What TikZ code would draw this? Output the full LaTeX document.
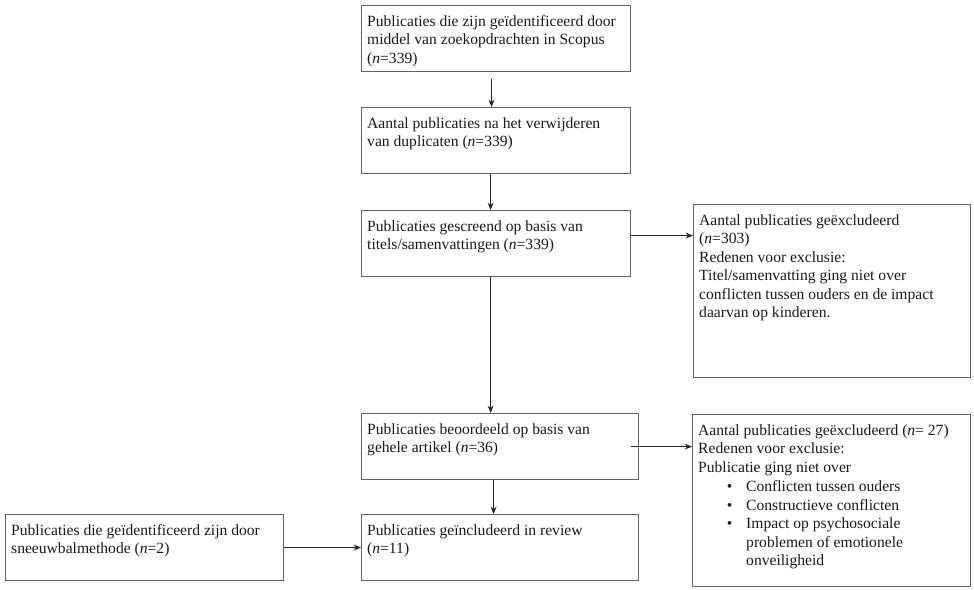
\documentclass[tikz,border=0pt]{standalone}
\usepackage{fontspec}
\setmainfont{Liberation Serif}
\usetikzlibrary{arrows.meta,calc}
\newcommand\bxt[3]{\parbox[c][#2][t]{#1}{\raggedright\fontsize{11.7pt}{13.9pt}\selectfont\vspace*{2pt}#3}}
\tikzset{
  flowbox/.style={draw=black!62, line width=0.9pt, inner xsep=4.2pt, inner ysep=5.2pt, anchor=north west, text=black!90},
  arr/.style={draw=black!85, line width=0.6pt, -{Stealth[length=5.5pt,width=4.5pt]}}
}
\begin{document}
\begin{tikzpicture}[x=0.75pt,y=-0.75pt]
\useasboundingbox (0,0) rectangle (974,589);
% widths/heights in pt: box w = px*0.75 - 2*4.2 ; h = px*0.75 - 2*5.2
\node[flowbox] (b1) at (361,5) {\bxt{193.35pt}{39.1pt}{Publicaties die zijn geïdentificeerd door\\ middel van zoekopdrachten in Scopus\\ (\textit{n}=339)}};
\node[flowbox] (b2) at (361,107) {\bxt{193.35pt}{39.1pt}{Aantal publicaties na het verwijderen\\ van duplicaten (\textit{n}=339)}};
\node[flowbox] (b3) at (361,210) {\bxt{193.35pt}{39.1pt}{Publicaties gescreend op basis van\\ titels/samenvattingen (\textit{n}=339)}};
\node[flowbox] (b4) at (361,413) {\bxt{199.35pt}{39.1pt}{Publicaties beoordeeld op basis van\\ gehele artikel (\textit{n}=36)}};
\node[flowbox] (b5) at (361,514) {\bxt{199.35pt}{39.1pt}{Publicaties geïncludeerd in review\\ (\textit{n}=11)}};
\node[flowbox] (lb) at (5,514) {\bxt{200.1pt}{39.1pt}{Publicaties die geïdentificeerd zijn door\\ sneeuwbalmethode (\textit{n}=2)}};
\node[flowbox] (r1) at (693,204) {\bxt{199.35pt}{119.35pt}{Aantal publicaties geëxcludeerd\\ (\textit{n}=303)\\ Redenen voor exclusie:\\ Titel/samenvatting ging niet over\\ conflicten tussen ouders en de impact\\ daarvan op kinderen.}};
\node[flowbox] (r2) at (692,414) {\bxt{200.1pt}{118.6pt}{Aantal publicaties geëxcludeerd (\textit{n}= 27)\\ Redenen voor exclusie:\\ Publicatie ging niet over\\[0.8pt]
\hspace*{21.5pt}\makebox[14.5pt][l]{\textbullet}Conflicten tussen ouders\\
\hspace*{21.5pt}\makebox[14.5pt][l]{\textbullet}Constructieve conflicten\\
\hspace*{21.5pt}\makebox[14.5pt][l]{\textbullet}Impact op psychosociale\\
\hspace*{36pt}problemen of emotionele\\
\hspace*{36pt}onveiligheid}};
% connectors
\draw[arr] ([xshift=-3.4pt,yshift=-5pt]b1.south) -- ([xshift=-3.4pt]b1.south |- b2.north);
\draw[arr] ([xshift=-4.1pt]b2.south) -- ([xshift=-4.1pt]b2.south |- b3.north);
\draw[arr] ([yshift=6pt]b3.east) -- ([yshift=6pt]b3.east -| r1.west);
\draw[arr] ([xshift=-4.1pt]b3.south) -- ([xshift=-4.1pt]b3.south |- b4.north);
\draw[arr] ([xshift=-6pt]b4.east) -- (b4.east -| r2.west);
\draw[arr] ([xshift=-4.9pt]b4.south) -- ([xshift=-4.9pt]b4.south |- b5.north);
\draw[arr] (lb.east) -- (b5.west);
\end{tikzpicture}
\end{document}
